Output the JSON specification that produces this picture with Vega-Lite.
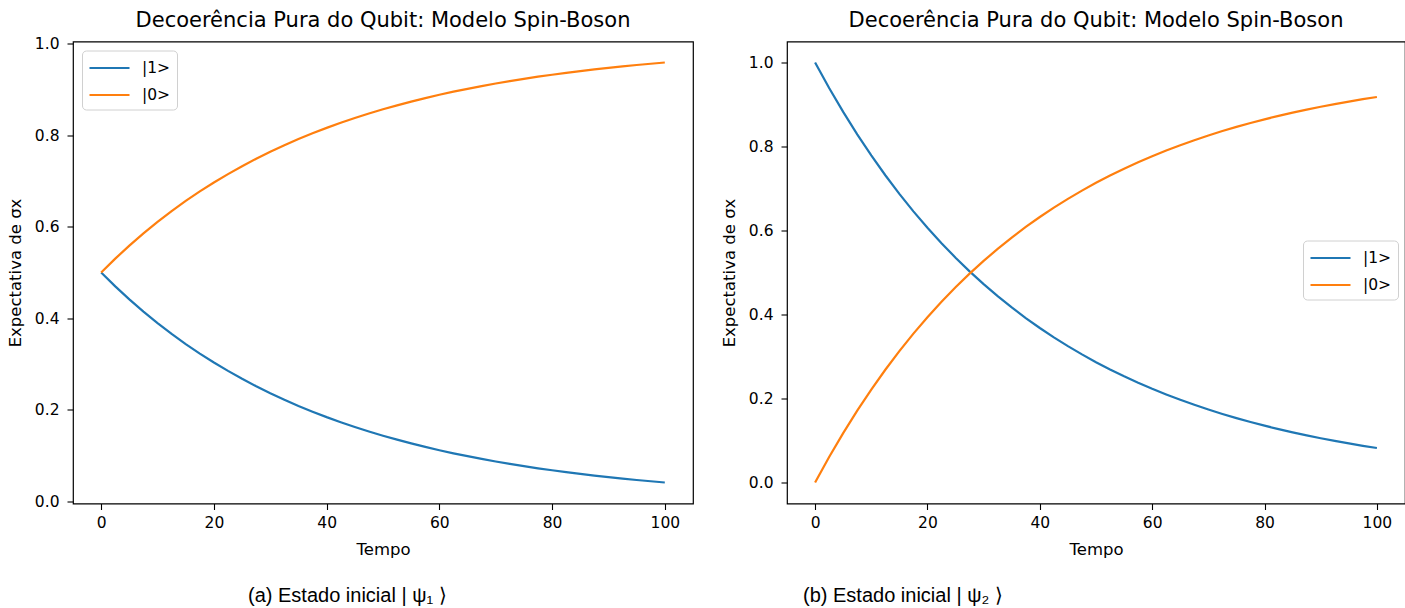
{
"$schema": "https://vega.github.io/schema/vega-lite/v6.json",
"background": "white",
"padding": {"left": 6, "top": 8.5, "right": 0, "bottom": 0},
"datasets": {
"a": [
{"t":0,"s":"|1>","v":0.5},{"t":2.5,"s":"|1>","v":0.4697},{"t":5,"s":"|1>","v":0.4412},{"t":7.5,"s":"|1>","v":0.4145},{"t":10,"s":"|1>","v":0.3894},{"t":12.5,"s":"|1>","v":0.3658},{"t":15,"s":"|1>","v":0.3436},{"t":17.5,"s":"|1>","v":0.3228},{"t":20,"s":"|1>","v":0.3033},{"t":22.5,"s":"|1>","v":0.2849},{"t":25,"s":"|1>","v":0.2676},{"t":27.5,"s":"|1>","v":0.2514},{"t":30,"s":"|1>","v":0.2362},{"t":32.5,"s":"|1>","v":0.2219},{"t":35,"s":"|1>","v":0.2084},{"t":37.5,"s":"|1>","v":0.1958},{"t":40,"s":"|1>","v":0.1839},{"t":42.5,"s":"|1>","v":0.1728},{"t":45,"s":"|1>","v":0.1623},{"t":47.5,"s":"|1>","v":0.1525},{"t":50,"s":"|1>","v":0.1433},{"t":52.5,"s":"|1>","v":0.1346},{"t":55,"s":"|1>","v":0.1264},{"t":57.5,"s":"|1>","v":0.1188},{"t":60,"s":"|1>","v":0.1116},{"t":62.5,"s":"|1>","v":0.1048},{"t":65,"s":"|1>","v":0.0985},{"t":67.5,"s":"|1>","v":0.0925},{"t":70,"s":"|1>","v":0.0869},{"t":72.5,"s":"|1>","v":0.0816},{"t":75,"s":"|1>","v":0.0767},{"t":77.5,"s":"|1>","v":0.0720},{"t":80,"s":"|1>","v":0.0677},{"t":82.5,"s":"|1>","v":0.0636},{"t":85,"s":"|1>","v":0.0597},{"t":87.5,"s":"|1>","v":0.0561},{"t":90,"s":"|1>","v":0.0527},{"t":92.5,"s":"|1>","v":0.0495},{"t":95,"s":"|1>","v":0.0465},{"t":97.5,"s":"|1>","v":0.0437},{"t":100,"s":"|1>","v":0.0410},
{"t":0,"s":"|0>","v":0.5},{"t":2.5,"s":"|0>","v":0.5303},{"t":5,"s":"|0>","v":0.5588},{"t":7.5,"s":"|0>","v":0.5855},{"t":10,"s":"|0>","v":0.6106},{"t":12.5,"s":"|0>","v":0.6342},{"t":15,"s":"|0>","v":0.6564},{"t":17.5,"s":"|0>","v":0.6772},{"t":20,"s":"|0>","v":0.6967},{"t":22.5,"s":"|0>","v":0.7151},{"t":25,"s":"|0>","v":0.7324},{"t":27.5,"s":"|0>","v":0.7486},{"t":30,"s":"|0>","v":0.7638},{"t":32.5,"s":"|0>","v":0.7781},{"t":35,"s":"|0>","v":0.7916},{"t":37.5,"s":"|0>","v":0.8042},{"t":40,"s":"|0>","v":0.8161},{"t":42.5,"s":"|0>","v":0.8272},{"t":45,"s":"|0>","v":0.8377},{"t":47.5,"s":"|0>","v":0.8475},{"t":50,"s":"|0>","v":0.8567},{"t":52.5,"s":"|0>","v":0.8654},{"t":55,"s":"|0>","v":0.8736},{"t":57.5,"s":"|0>","v":0.8812},{"t":60,"s":"|0>","v":0.8884},{"t":62.5,"s":"|0>","v":0.8952},{"t":65,"s":"|0>","v":0.9015},{"t":67.5,"s":"|0>","v":0.9075},{"t":70,"s":"|0>","v":0.9131},{"t":72.5,"s":"|0>","v":0.9184},{"t":75,"s":"|0>","v":0.9233},{"t":77.5,"s":"|0>","v":0.9280},{"t":80,"s":"|0>","v":0.9323},{"t":82.5,"s":"|0>","v":0.9364},{"t":85,"s":"|0>","v":0.9403},{"t":87.5,"s":"|0>","v":0.9439},{"t":90,"s":"|0>","v":0.9473},{"t":92.5,"s":"|0>","v":0.9505},{"t":95,"s":"|0>","v":0.9535},{"t":97.5,"s":"|0>","v":0.9563},{"t":100,"s":"|0>","v":0.9590}
],
"b": [
{"t":0,"s":"|1>","v":1.0},{"t":2.5,"s":"|1>","v":0.9394},{"t":5,"s":"|1>","v":0.8825},{"t":7.5,"s":"|1>","v":0.8290},{"t":10,"s":"|1>","v":0.7788},{"t":12.5,"s":"|1>","v":0.7316},{"t":15,"s":"|1>","v":0.6873},{"t":17.5,"s":"|1>","v":0.6456},{"t":20,"s":"|1>","v":0.6065},{"t":22.5,"s":"|1>","v":0.5698},{"t":25,"s":"|1>","v":0.5353},{"t":27.5,"s":"|1>","v":0.5028},{"t":30,"s":"|1>","v":0.4724},{"t":32.5,"s":"|1>","v":0.4437},{"t":35,"s":"|1>","v":0.4169},{"t":37.5,"s":"|1>","v":0.3916},{"t":40,"s":"|1>","v":0.3679},{"t":42.5,"s":"|1>","v":0.3456},{"t":45,"s":"|1>","v":0.3247},{"t":47.5,"s":"|1>","v":0.3050},{"t":50,"s":"|1>","v":0.2865},{"t":52.5,"s":"|1>","v":0.2691},{"t":55,"s":"|1>","v":0.2528},{"t":57.5,"s":"|1>","v":0.2375},{"t":60,"s":"|1>","v":0.2231},{"t":62.5,"s":"|1>","v":0.2096},{"t":65,"s":"|1>","v":0.1969},{"t":67.5,"s":"|1>","v":0.1850},{"t":70,"s":"|1>","v":0.1738},{"t":72.5,"s":"|1>","v":0.1632},{"t":75,"s":"|1>","v":0.1534},{"t":77.5,"s":"|1>","v":0.1441},{"t":80,"s":"|1>","v":0.1353},{"t":82.5,"s":"|1>","v":0.1271},{"t":85,"s":"|1>","v":0.1194},{"t":87.5,"s":"|1>","v":0.1122},{"t":90,"s":"|1>","v":0.1054},{"t":92.5,"s":"|1>","v":0.0990},{"t":95,"s":"|1>","v":0.0930},{"t":97.5,"s":"|1>","v":0.0874},{"t":100,"s":"|1>","v":0.0821},
{"t":0,"s":"|0>","v":0.0},{"t":2.5,"s":"|0>","v":0.0606},{"t":5,"s":"|0>","v":0.1175},{"t":7.5,"s":"|0>","v":0.1710},{"t":10,"s":"|0>","v":0.2212},{"t":12.5,"s":"|0>","v":0.2684},{"t":15,"s":"|0>","v":0.3127},{"t":17.5,"s":"|0>","v":0.3544},{"t":20,"s":"|0>","v":0.3935},{"t":22.5,"s":"|0>","v":0.4302},{"t":25,"s":"|0>","v":0.4647},{"t":27.5,"s":"|0>","v":0.4972},{"t":30,"s":"|0>","v":0.5276},{"t":32.5,"s":"|0>","v":0.5563},{"t":35,"s":"|0>","v":0.5831},{"t":37.5,"s":"|0>","v":0.6084},{"t":40,"s":"|0>","v":0.6321},{"t":42.5,"s":"|0>","v":0.6544},{"t":45,"s":"|0>","v":0.6753},{"t":47.5,"s":"|0>","v":0.6950},{"t":50,"s":"|0>","v":0.7135},{"t":52.5,"s":"|0>","v":0.7309},{"t":55,"s":"|0>","v":0.7472},{"t":57.5,"s":"|0>","v":0.7625},{"t":60,"s":"|0>","v":0.7769},{"t":62.5,"s":"|0>","v":0.7904},{"t":65,"s":"|0>","v":0.8031},{"t":67.5,"s":"|0>","v":0.8150},{"t":70,"s":"|0>","v":0.8262},{"t":72.5,"s":"|0>","v":0.8368},{"t":75,"s":"|0>","v":0.8466},{"t":77.5,"s":"|0>","v":0.8559},{"t":80,"s":"|0>","v":0.8647},{"t":82.5,"s":"|0>","v":0.8729},{"t":85,"s":"|0>","v":0.8806},{"t":87.5,"s":"|0>","v":0.8878},{"t":90,"s":"|0>","v":0.8946},{"t":92.5,"s":"|0>","v":0.9010},{"t":95,"s":"|0>","v":0.9070},{"t":97.5,"s":"|0>","v":0.9126},{"t":100,"s":"|0>","v":0.9179}
]
},
"spacing": 26,
"resolve": {"scale": {"color": "independent"}, "legend": {"color": "independent"}},
"hconcat": [
{
"title": {"text": "(a) Estado inicial | ψ₁ ⟩", "orient": "bottom", "anchor": "start", "frame": "group", "dx": 175, "offset": 28, "font": "Liberation Sans", "fontSize": 20, "fontWeight": "normal", "color": "#000"},
"resolve": {"scale": {"color": "independent"}, "legend": {"color": "independent"}},
"hconcat": [
{
"width": 620, "height": 462,
"data": {"name": "a"},
"title": "Decoerência Pura do Qubit: Modelo Spin-Boson",
"mark": {"type": "line", "strokeWidth": 2.2},
"encoding": {
"x": {"field": "t", "type": "quantitative", "scale": {"domain": [-5, 105], "nice": false, "zero": false}, "axis": {"values": [0, 20, 40, 60, 80, 100], "title": "Tempo"}},
"y": {"field": "v", "type": "quantitative", "scale": {"domain": [-0.0049, 1.0049], "nice": false, "zero": false}, "axis": {"values": [0, 0.2, 0.4, 0.6, 0.8, 1.0], "format": ".1f", "title": "Expectativa de σx"}},
"color": {"field": "s", "type": "nominal", "scale": {"domain": ["|1>", "|0>"], "range": ["#1f77b4", "#ff7f0e"]}, "legend": {"title": null, "orient": "top-left", "offset": 9}}
}
}
]
},
{
"title": {"text": "(b) Estado inicial | ψ₂ ⟩", "orient": "bottom", "anchor": "start", "frame": "group", "dx": 16, "offset": 28, "font": "Liberation Sans", "fontSize": 20, "fontWeight": "normal", "color": "#000"},
"resolve": {"scale": {"color": "independent"}, "legend": {"color": "independent"}},
"hconcat": [
{
"width": 618, "height": 462,
"data": {"name": "b"},
"title": {"text": "Decoerência Pura do Qubit: Modelo Spin-Boson", "offset": 11},
"mark": {"type": "line", "strokeWidth": 2.2},
"encoding": {
"x": {"field": "t", "type": "quantitative", "scale": {"domain": [-5, 105], "nice": false, "zero": false}, "axis": {"values": [0, 20, 40, 60, 80, 100], "title": "Tempo"}},
"y": {"field": "v", "type": "quantitative", "scale": {"domain": [-0.05, 1.05], "nice": false, "zero": false}, "axis": {"values": [0, 0.2, 0.4, 0.6, 0.8, 1.0], "format": ".1f", "title": "Expectativa de σx"}},
"color": {"field": "s", "type": "nominal", "scale": {"domain": ["|1>", "|0>"], "range": ["#1f77b4", "#ff7f0e"]}, "legend": {"title": null, "orient": "none", "legendX": 516, "legendY": 199}}
}
}
]
}
],
"config": {
"font": "DejaVu Sans",
"view": {"stroke": "#000", "strokeWidth": 1.2},
"axis": {"domain": false, "grid": false, "tickColor": "#000", "tickSize": 6, "tickWidth": 1.1, "labelFontSize": 15.5, "titleFontSize": 16.5, "labelColor": "#000", "titleColor": "#000", "titleFontWeight": "normal", "labelFont": "DejaVu Sans", "titleFont": "DejaVu Sans"},
"axisX": {"labelPadding": 6, "titlePadding": 10},
"axisY": {"labelPadding": 8, "titlePadding": 11},
"title": {"fontSize": 21, "fontWeight": "normal", "color": "#000", "offset": 6, "font": "DejaVu Sans"},
"legend": {"fillColor": "#fff", "strokeColor": "#d0d0d0", "cornerRadius": 4, "padding": 6, "symbolType": "M-1,0H3", "symbolStrokeWidth": 2.2, "symbolSize": 400, "labelFontSize": 15.5, "labelColor": "#000", "labelFont": "DejaVu Sans", "labelOffset": 31, "rowPadding": 7}
}
}
